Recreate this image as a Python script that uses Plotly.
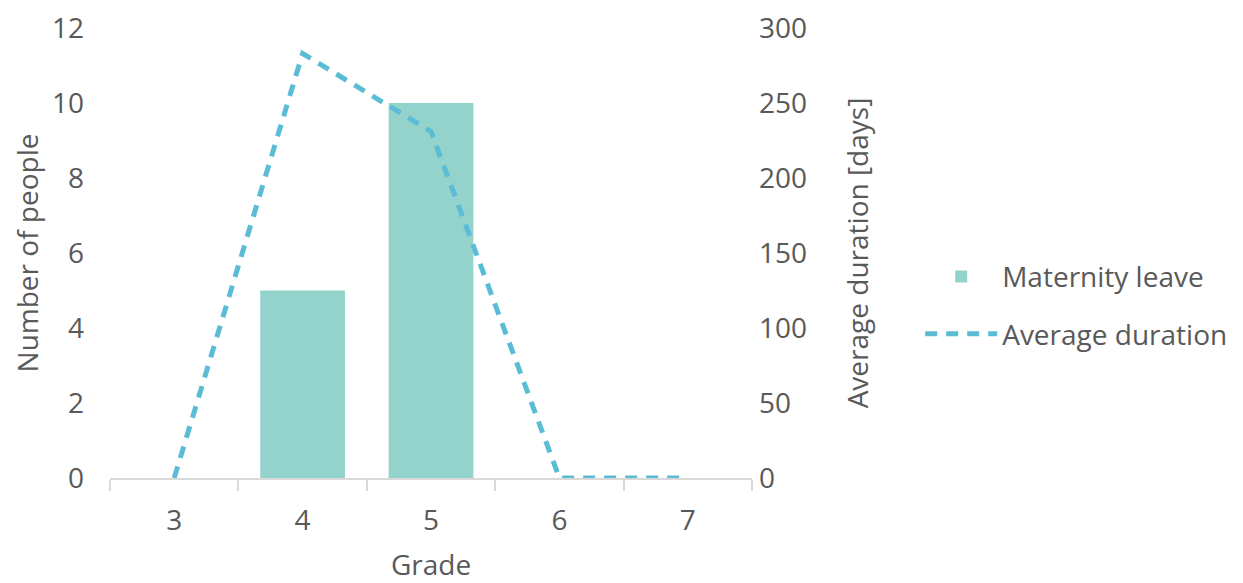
import plotly.graph_objects as go

grades = ["3", "4", "5", "6", "7"]
maternity_leave = [0, 5, 10, 0, 0]
average_duration = [0, 283, 231, 0, 0]

TEXT = "#595959"
FONT = "Open Sans"
FS = 28

fig = go.Figure()
fig.add_trace(go.Bar(
    x=grades, y=maternity_leave, name="Maternity leave",
    marker=dict(color="#93D3CC", line=dict(width=0)),
    width=0.66, yaxis="y", legendgroup="a",
))
fig.add_trace(go.Scatter(
    x=grades, y=average_duration, name="Average duration",
    mode="lines", line=dict(color="#5BBCD6", width=5, dash="12px,9px"),
    yaxis="y2", legendgroup="b",
))

# page body has an 8px margin, so the figure is offset by 8px
fig.update_layout(
    width=1235, height=575,
    margin=dict(l=102, r=490, t=20, b=105),
    paper_bgcolor="white", plot_bgcolor="white",
    font=dict(family=FONT, size=FS, color=TEXT),
    showlegend=True,
    legend=dict(x=1.26, y=0.384, xanchor="left", yanchor="middle",
                font=dict(size=FS, color=TEXT), itemwidth=72,
                tracegroupgap=18, bgcolor="rgba(0,0,0,0)"),
    xaxis=dict(
        type="category", range=[-0.5, 4.5], automargin=False,
        showline=True, linecolor="#D9D9D9", linewidth=1.5,
        ticks="outside", tickson="boundaries", ticklen=11, tickcolor="#D9D9D9", tickwidth=1.5,
        ticklabelstandoff=17, ticklabeloverflow="allow",
        showgrid=False, zeroline=False,
        title=dict(text="Grade", font=dict(size=FS, color=TEXT), standoff=25),
        tickfont=dict(size=FS, color=TEXT),
    ),
    yaxis=dict(
        range=[0, 12], dtick=2, showgrid=False, zeroline=False, showline=False,
        automargin=False, ticks="", ticklabelstandoff=25, ticklabeloverflow="allow",
        tickfont=dict(size=FS, color=TEXT),
        title=dict(text="Number of people", font=dict(size=FS, color=TEXT), standoff=25),
    ),
    yaxis2=dict(
        range=[0, 300], dtick=50, overlaying="y", side="right",
        automargin=False,
        showgrid=False, zeroline=False, showline=False, ticks="",
        ticklabelstandoff=6, ticklabeloverflow="allow",
        tickfont=dict(size=FS, color=TEXT),
        title=dict(text="Average duration [days]", font=dict(size=FS, color=TEXT), standoff=42),
    ),
)

fig.write_html("out.html")
